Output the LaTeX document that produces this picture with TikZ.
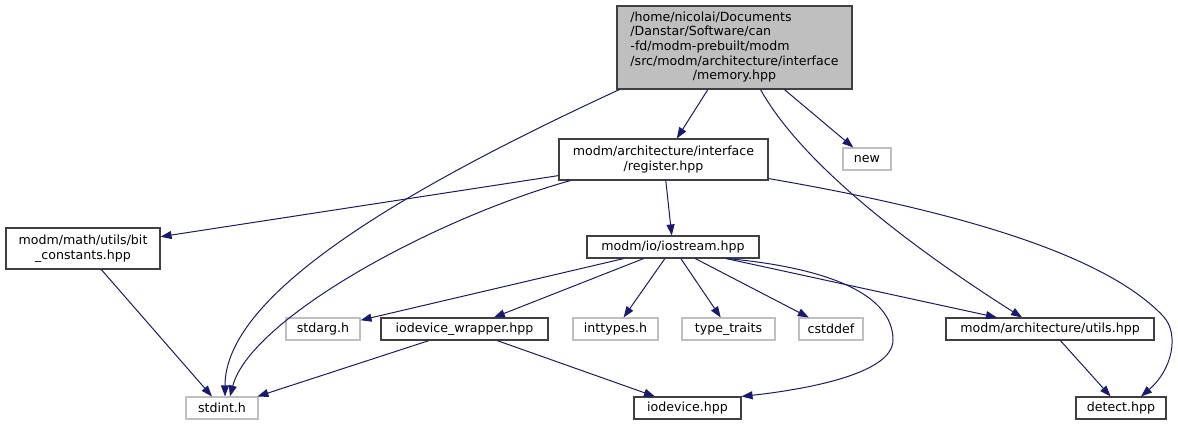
\documentclass[tikz,border=0pt]{standalone}
\usepackage{fontspec}
\setmainfont{DejaVu Sans}
\usetikzlibrary{arrows.meta}

\definecolor{edgeblue}{RGB}{25,25,112}
\definecolor{sysgray}{RGB}{191,191,191}
\definecolor{boxline}{RGB}{64,64,64}

\begin{document}
\begin{tikzpicture}[
    x=1pt, y=-1pt,
    every node/.style={font=\fontsize{12.6}{14.7}\selectfont, inner sep=0pt},
    >={Triangle[length=11pt, width=8pt]},
    filebox/.style={draw=boxline, line width=1.1pt, align=center},
    sysbox/.style={draw=sysgray, line width=1.1pt, align=center},
    incl/.style={->, edgeblue, line width=1pt},
]
\useasboundingbox (0,0) rectangle (1178,424);

% === Source file (top) ===
\node[filebox, fill=sysgray, minimum width=235pt, minimum height=83pt] (mem) at (734.5,47.5)
    {\begin{tabular}{@{}l@{}}/home/nicolai/Documents\\/Danstar/Software/can\\-fd/modm-prebuilt/modm\\/src/modm/architecture/interface\\\multicolumn{1}{@{}c@{}}{/memory.hpp}\end{tabular}};

% === Second row ===
\node[filebox, minimum width=209pt, minimum height=41pt] (reg) at (663.5,159.5)
    {modm/architecture/interface\\/register.hpp};
\node[sysbox, minimum width=48pt, minimum height=22pt] (newh) at (867,159) {new};

% === Third row ===
\node[filebox, minimum width=154pt, minimum height=41pt] (bitc) at (83,248.5)
    {modm/math/utils/bit\\\_constants.hpp};
\node[filebox, minimum width=172pt, minimum height=22pt] (ios) at (673,247) {modm/io/iostream.hpp};

% === Fourth row ===
\node[sysbox, minimum width=74pt, minimum height=22pt] (stdargh) at (323,329) {stdarg.h};
\node[filebox, minimum width=167pt, minimum height=22pt] (iowrap) at (464.5,329) {iodevice\_wrapper.hpp};
\node[sysbox, minimum width=85pt, minimum height=22pt] (inttypesh) at (615.5,329) {inttypes.h};
\node[sysbox, minimum width=93pt, minimum height=22pt] (typetraits) at (728.5,329) {type\_traits};
\node[sysbox, minimum width=64pt, minimum height=22pt] (cstddefh) at (831,329) {cstddef};
\node[filebox, minimum width=208pt, minimum height=22pt] (archutils) at (1050,329) {modm/architecture/utils.hpp};

% === Bottom row ===
\node[sysbox, minimum width=72pt, minimum height=22pt] (stdint) at (222,408) {stdint.h};
\node[filebox, minimum width=107pt, minimum height=22pt] (iodev) at (687.5,408) {iodevice.hpp};
\node[filebox, minimum width=90pt, minimum height=22pt] (detect) at (1121,408) {detect.hpp};

% === Includes of memory.hpp ===
\draw[incl] ([xshift=3pt]mem.south west) .. controls (380,200) and (225,300) .. ([xshift=3pt]stdint.north);
\draw[incl] (mem) -- (reg);
\draw[incl] (mem) -- (newh);
\draw[incl] ([xshift=26pt]mem.south) .. controls (800,160) and (900,240) .. ([xshift=-28pt]archutils.north);

% === Includes of register.hpp ===
\draw[incl] (reg) -- (bitc);
\draw[incl] ([xshift=12pt]reg.south west) .. controls (430,220) and (250,320) .. ([xshift=8pt]stdint.north);
\draw[incl] (reg) -- (ios);
\draw[incl] ([yshift=2pt]reg.south east) .. controls (980,215) and (1110,260) .. (1163,316)
    .. controls (1180,334) and (1172,370) .. ([xshift=20pt]detect.north);

% === Includes of iostream.hpp ===
\draw[incl] (ios) -- (stdargh);
\draw[incl] (ios) -- (iowrap);
\draw[incl] (ios) -- (inttypesh);
\draw[incl] (ios) -- (typetraits);
\draw[incl] (ios) -- (cstddefh);
\draw[incl] ([xshift=54pt]ios.south) .. controls (830,268) and (893,295) .. (893,340)
    .. controls (893,375) and (800,390) .. (iodev.north east);
\draw[incl] (ios) -- (archutils);

% === Remaining includes ===
\draw[incl] (bitc) -- (stdint);
\draw[incl] (iowrap) -- (stdint);
\draw[incl] (iowrap) -- (iodev);
\draw[incl] (archutils) -- (detect);

\end{tikzpicture}
\end{document}
